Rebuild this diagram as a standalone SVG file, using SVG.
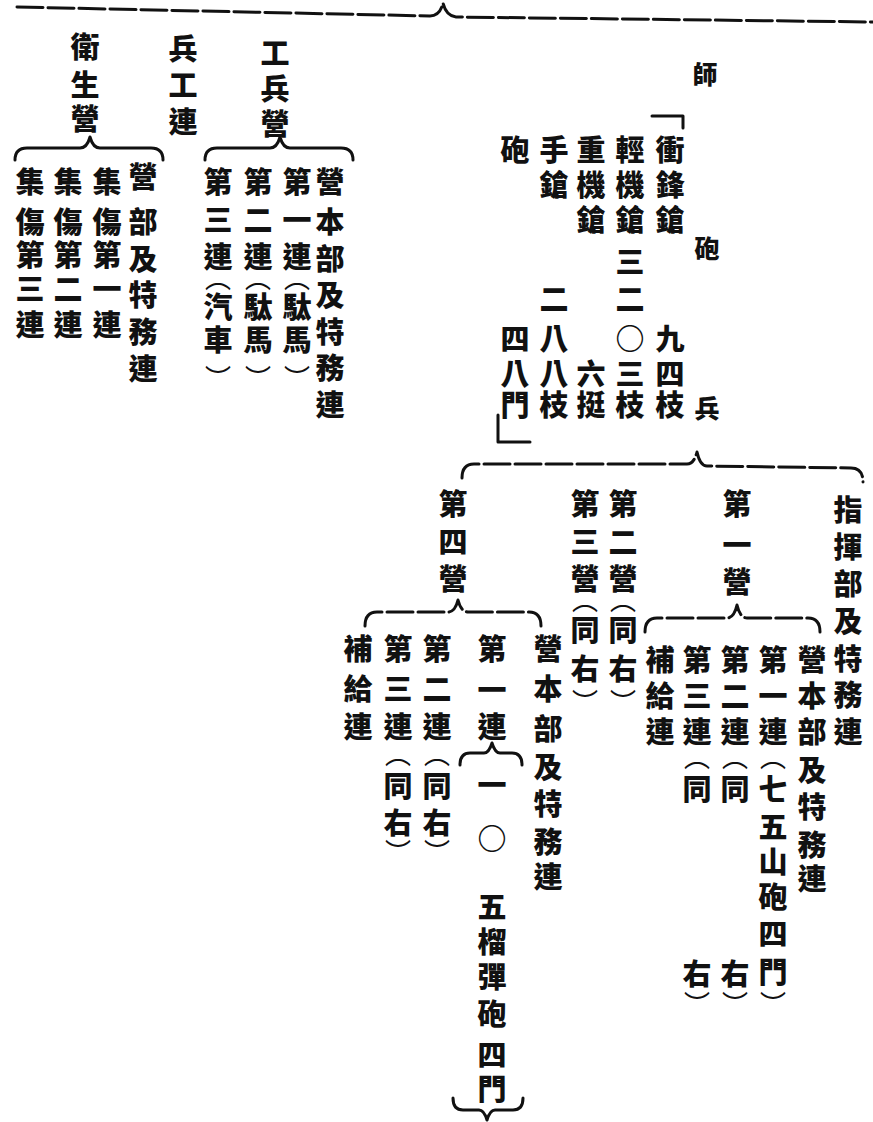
<svg xmlns="http://www.w3.org/2000/svg" width="873" height="1122" viewBox="0 0 873 1122">
<style>
.t{font-family:"Noto Sans CJK TC","Noto Sans CJK SC",sans-serif;font-size:29px;font-weight:900;text-anchor:middle;dominant-baseline:central;fill:#111}
.s{font-size:25px}
.p{font-weight:400;font-size:26px}
.br{fill:none;stroke:#111;stroke-width:3;stroke-linecap:round;stroke-linejoin:round}
.d{stroke-dasharray:26 5}
</style>
<rect width="873" height="1122" fill="#fff"/>
<g id="connectors">
<path class="br d" d="M17,7 L430,16 Q440,16 443,3 Q446,16 456,17 L873,22"/>
<path class="br" d="M15,160 Q15,148 27,148 L80,148 Q87,148 90,137 Q93,148 100,148 L151,148 Q163,148 163,160"/>
<path class="br" d="M205,160 Q205,148 217,148 L270,148 Q277,148 280,137 Q283,148 290,148 L341,148 Q353,148 353,160"/>
<path class="br" d="M652,116 H683 V128"/>
<path class="br" d="M498,415 V442 H530"/>
<path class="br d" d="M462,478 Q462,464 474,464 L687,464 Q694,464 697,452 Q700,466 707,466 L851,468 Q863,468 863,482"/>
<path class="br d" d="M365,626 Q365,612 377,612 L448,612 Q455,612 458,600 Q461,612 468,612 L529,612 Q541,612 541,626"/>
<path class="br d" d="M645,632 Q645,618 657,618 L727,618 Q734,618 737,605 Q740,618 747,618 L808,618 Q820,618 820,632"/>
<path class="br" d="M460,765 Q460,753 470,753 L484,753 Q489,753 492,743 Q495,753 500,753 L512,753 Q522,753 522,765"/>
<path class="br" d="M453,1098 Q453,1110 463,1110 L479,1110 Q484,1110 487,1120 Q490,1110 495,1110 L513,1110 Q523,1110 523,1098"/>
</g>
<g id="n-weisheng">
<text class="t"><tspan x="85" y="45">衛</tspan><tspan x="85" y="83">生</tspan><tspan x="85" y="117">營</tspan></text>
</g>
<g id="n-weisheng-hq">
<text class="t"><tspan x="143" y="175">營</tspan><tspan x="143" y="220">部</tspan><tspan x="143" y="257">及</tspan><tspan x="143" y="293">特</tspan><tspan x="143" y="330">務</tspan><tspan x="143" y="367">連</tspan></text>
</g>
<g id="n-jishang1">
<text class="t"><tspan x="107" y="180">集</tspan><tspan x="107" y="220">傷</tspan><tspan x="107" y="253">第</tspan><tspan x="107" y="287">一</tspan><tspan x="107" y="323">連</tspan></text>
</g>
<g id="n-jishang2">
<text class="t"><tspan x="68" y="180">集</tspan><tspan x="68" y="220">傷</tspan><tspan x="68" y="253">第</tspan><tspan x="68" y="287">二</tspan><tspan x="68" y="323">連</tspan></text>
</g>
<g id="n-jishang3">
<text class="t"><tspan x="30" y="180">集</tspan><tspan x="30" y="220">傷</tspan><tspan x="30" y="253">第</tspan><tspan x="30" y="287">三</tspan><tspan x="30" y="323">連</tspan></text>
</g>
<g id="n-binggonglian">
<text class="t"><tspan x="183" y="47">兵</tspan><tspan x="183" y="83">工</tspan><tspan x="183" y="120">連</tspan></text>
</g>
<g id="n-gongbing">
<text class="t"><tspan x="275" y="51">工</tspan><tspan x="275" y="87">兵</tspan><tspan x="275" y="122">營</tspan></text>
</g>
<g id="n-gongbing-hq">
<text class="t"><tspan x="330" y="180">營</tspan><tspan x="330" y="220">本</tspan><tspan x="330" y="257">部</tspan><tspan x="330" y="293">及</tspan><tspan x="330" y="330">特</tspan><tspan x="330" y="366">務</tspan><tspan x="330" y="403">連</tspan></text>
</g>
<g id="n-gongbing-1">
<text class="t"><tspan x="297" y="180">第</tspan><tspan x="297" y="218">一</tspan><tspan x="297" y="255">連</tspan><tspan class="p" x="297" y="276">︵</tspan><tspan x="297" y="305">駄</tspan><tspan x="297" y="338">馬</tspan><tspan class="p" x="297" y="376">︶</tspan></text>
</g>
<g id="n-gongbing-2">
<text class="t"><tspan x="258" y="180">第</tspan><tspan x="258" y="218">二</tspan><tspan x="258" y="255">連</tspan><tspan class="p" x="258" y="276">︵</tspan><tspan x="258" y="305">駄</tspan><tspan x="258" y="338">馬</tspan><tspan class="p" x="258" y="376">︶</tspan></text>
</g>
<g id="n-gongbing-3">
<text class="t"><tspan x="218" y="180">第</tspan><tspan x="218" y="218">三</tspan><tspan x="218" y="255">連</tspan><tspan class="p" x="218" y="276">︵</tspan><tspan x="218" y="305">汽</tspan><tspan x="218" y="338">車</tspan><tspan class="p" x="218" y="376">︶</tspan></text>
</g>
<g id="n-shi">
<text class="t s" x="705" y="73">師</text>
</g>
<g id="n-weapons">
<text class="t"><tspan x="670" y="148">衝</tspan><tspan x="670" y="183">鋒</tspan><tspan x="670" y="218">鎗</tspan><tspan x="670" y="337">九</tspan><tspan x="670" y="372">四</tspan><tspan x="670" y="403">枝</tspan></text>
<text class="t"><tspan x="630" y="148">輕</tspan><tspan x="630" y="183">機</tspan><tspan x="630" y="218">鎗</tspan><tspan x="630" y="260">三</tspan><tspan x="630" y="297">二</tspan><tspan x="630" y="337">○</tspan><tspan x="630" y="372">三</tspan><tspan x="630" y="403">枝</tspan></text>
<text class="t"><tspan x="591" y="148">重</tspan><tspan x="591" y="183">機</tspan><tspan x="591" y="218">鎗</tspan><tspan x="591" y="372">六</tspan><tspan x="591" y="403">挺</tspan></text>
<text class="t"><tspan x="554" y="148">手</tspan><tspan x="554" y="183">鎗</tspan><tspan x="554" y="297">二</tspan><tspan x="554" y="337">八</tspan><tspan x="554" y="372">八</tspan><tspan x="554" y="403">枝</tspan></text>
<text class="t"><tspan x="515" y="148">砲</tspan><tspan x="515" y="337">四</tspan><tspan x="515" y="372">八</tspan><tspan x="515" y="403">門</tspan></text>
</g>
<g id="n-paobing">
<text class="t s"><tspan x="707" y="247">砲</tspan><tspan x="707" y="407">兵</tspan></text>
</g>
<g id="n-ying4">
<text class="t"><tspan x="453" y="502">第</tspan><tspan x="453" y="540">四</tspan><tspan x="453" y="577">營</tspan></text>
</g>
<g id="n-ying3">
<text class="t"><tspan x="585" y="502">第</tspan><tspan x="585" y="540">三</tspan><tspan x="585" y="577">營</tspan><tspan class="p" x="585" y="598">︵</tspan><tspan x="585" y="628">同</tspan><tspan x="585" y="667">右</tspan><tspan class="p" x="585" y="700">︶</tspan></text>
</g>
<g id="n-ying2">
<text class="t"><tspan x="623" y="502">第</tspan><tspan x="623" y="540">二</tspan><tspan x="623" y="577">營</tspan><tspan class="p" x="623" y="598">︵</tspan><tspan x="623" y="628">同</tspan><tspan x="623" y="667">右</tspan><tspan class="p" x="623" y="700">︶</tspan></text>
</g>
<g id="n-ying1">
<text class="t"><tspan x="737" y="502">第</tspan><tspan x="737" y="543">一</tspan><tspan x="737" y="580">營</tspan></text>
</g>
<g id="n-zhihui">
<text class="t"><tspan x="848" y="508">指</tspan><tspan x="848" y="545">揮</tspan><tspan x="848" y="582">部</tspan><tspan x="848" y="619">及</tspan><tspan x="848" y="657">特</tspan><tspan x="848" y="693">務</tspan><tspan x="848" y="730">連</tspan></text>
</g>
<g id="n-y4-hq">
<text class="t"><tspan x="548" y="647">營</tspan><tspan x="548" y="687">本</tspan><tspan x="548" y="727">部</tspan><tspan x="548" y="765">及</tspan><tspan x="548" y="802">特</tspan><tspan x="548" y="840">務</tspan><tspan x="548" y="875">連</tspan></text>
</g>
<g id="n-y4-1">
<text class="t"><tspan x="492" y="647">第</tspan><tspan x="492" y="688">一</tspan><tspan x="492" y="725">連</tspan></text>
<text class="t"><tspan x="492" y="783">一</tspan><tspan x="492" y="837">○</tspan><tspan x="492" y="905">五</tspan><tspan x="492" y="940">榴</tspan><tspan x="492" y="975">彈</tspan><tspan x="492" y="1012">砲</tspan><tspan x="492" y="1053">四</tspan><tspan x="492" y="1087">門</tspan></text>
</g>
<g id="n-y4-2">
<text class="t"><tspan x="437" y="647">第</tspan><tspan x="437" y="687">二</tspan><tspan x="437" y="725">連</tspan><tspan class="p" x="437" y="752">︵</tspan><tspan x="437" y="784">同</tspan><tspan x="437" y="821">右</tspan><tspan class="p" x="437" y="850">︶</tspan></text>
</g>
<g id="n-y4-3">
<text class="t"><tspan x="398" y="647">第</tspan><tspan x="398" y="687">三</tspan><tspan x="398" y="725">連</tspan><tspan class="p" x="398" y="752">︵</tspan><tspan x="398" y="784">同</tspan><tspan x="398" y="821">右</tspan><tspan class="p" x="398" y="850">︶</tspan></text>
</g>
<g id="n-y4-supply">
<text class="t"><tspan x="358" y="647">補</tspan><tspan x="358" y="687">給</tspan><tspan x="358" y="725">連</tspan></text>
</g>
<g id="n-y1-hq">
<text class="t"><tspan x="812" y="658">營</tspan><tspan x="812" y="694">本</tspan><tspan x="812" y="730">部</tspan><tspan x="812" y="768">及</tspan><tspan x="812" y="805">特</tspan><tspan x="812" y="843">務</tspan><tspan x="812" y="877">連</tspan></text>
</g>
<g id="n-y1-1">
<text class="t"><tspan x="773" y="658">第</tspan><tspan x="773" y="694">一</tspan><tspan x="773" y="730">連</tspan><tspan class="p" x="773" y="755">︵</tspan><tspan x="773" y="787">七</tspan><tspan x="773" y="825">五</tspan><tspan x="773" y="860">山</tspan><tspan x="773" y="895">砲</tspan><tspan x="773" y="932">四</tspan><tspan x="773" y="970">門</tspan><tspan class="p" x="773" y="1002">︶</tspan></text>
</g>
<g id="n-y1-2">
<text class="t"><tspan x="735" y="658">第</tspan><tspan x="735" y="694">二</tspan><tspan x="735" y="730">連</tspan><tspan class="p" x="735" y="755">︵</tspan><tspan x="735" y="787">同</tspan><tspan x="735" y="972">右</tspan><tspan class="p" x="735" y="1002">︶</tspan></text>
</g>
<g id="n-y1-3">
<text class="t"><tspan x="697" y="658">第</tspan><tspan x="697" y="694">三</tspan><tspan x="697" y="730">連</tspan><tspan class="p" x="697" y="755">︵</tspan><tspan x="697" y="787">同</tspan><tspan x="697" y="972">右</tspan><tspan class="p" x="697" y="1002">︶</tspan></text>
</g>
<g id="n-y1-supply">
<text class="t"><tspan x="660" y="658">補</tspan><tspan x="660" y="694">給</tspan><tspan x="660" y="730">連</tspan></text>
</g>
</svg>
